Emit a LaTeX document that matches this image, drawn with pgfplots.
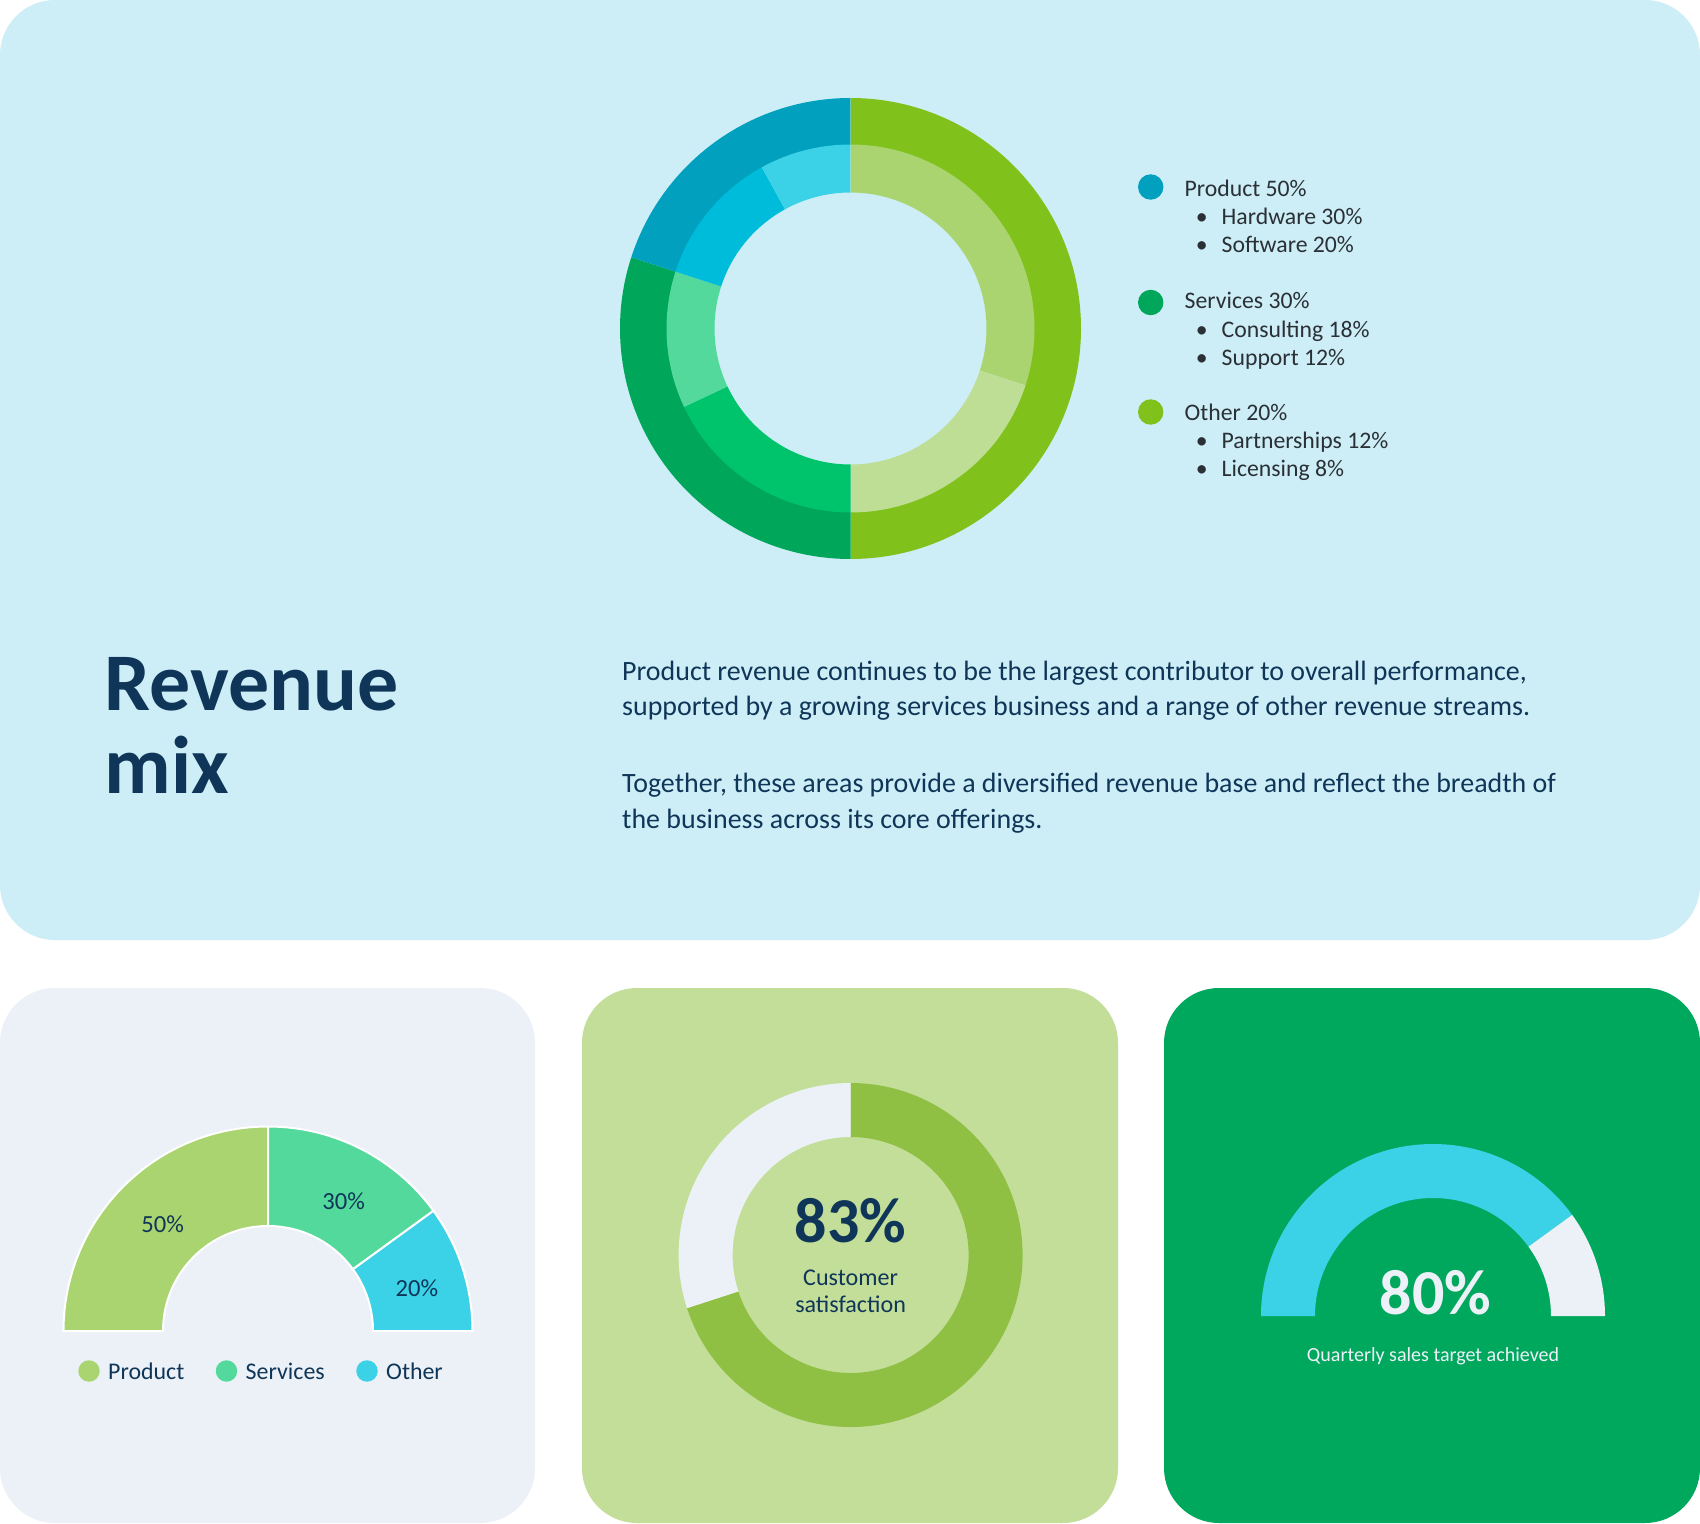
\documentclass[border=0pt]{standalone}
\usepackage{pgfplots}
\pgfplotsset{compat=1.18}
\usepackage{fontspec}
\setmainfont{Carlito}

\definecolor{topbg}{HTML}{CDEEF7}
\definecolor{navy}{HTML}{0F3658}
\definecolor{legtext}{HTML}{2A3035}
\definecolor{oLime}{HTML}{80C11C}
\definecolor{oGreen}{HTML}{00A65A}
\definecolor{oBlue}{HTML}{00A0BE}
\definecolor{iLime}{HTML}{A9D470}
\definecolor{iLimeL}{HTML}{BDDE94}
\definecolor{iGreen}{HTML}{00C46B}
\definecolor{iGreenL}{HTML}{53D99B}
\definecolor{iCyan}{HTML}{00BCDB}
\definecolor{iCyanL}{HTML}{3BD1E6}
\definecolor{paleGrey}{HTML}{ECF1F8}
\definecolor{midBg}{HTML}{C3DE99}
\definecolor{midGreen}{HTML}{8FC043}
\definecolor{rightBg}{HTML}{00A85D}

% one ring segment: cx, cy, inner r, outer r, from angle, to angle, style
% (1 axis unit = 0.1mm, so radii go to arc in mm)
\newcommand{\seg}[7]{%
  \fill[#7] (axis cs:{#1+#4*cos(#5)},{#2+#4*sin(#5)})
    arc[start angle=#5, end angle=#6, radius=#4*0.1mm]
    -- (axis cs:{#1+#3*cos(#6)},{#2+#3*sin(#6)})
    arc[start angle=#6, end angle=#5, radius=#3*0.1mm] -- cycle;}

% a ring of segments, clockwise from a start angle
% [extra style]{cx}{cy}{r in}{r out}{start}{span}{value/colour,...}
\newcommand{\ring}[8][]{%
  \xdef\ringA{#6}%
  \foreach \v/\c in {#8} {%
    \pgfmathsetmacro\ringB{\ringA-\v/100*#7}%
    \edef\tmp{\noexpand\seg{#2}{#3}{#4}{#5}{\ringA}{\ringB}{fill=\c,#1}}%
    \tmp
    \xdef\ringA{\ringB}%
  }}

\newcommand{\fs}[1]{\fontsize{#1}{1.2\dimexpr#1\relax}\selectfont}

\begin{document}
\begin{tikzpicture}
\begin{axis}[
  scale only axis, width=17cm, height=15.23cm,
  xmin=0, xmax=1700, ymin=0, ymax=1523,
  hide axis, clip=false]

% background and cards
\fill[white] (axis cs:0,0) rectangle (axis cs:1700,1523);
\fill[topbg, rounded corners=5.5mm] (axis cs:0,583) rectangle (axis cs:1700,1523);
\fill[paleGrey, rounded corners=5.5mm] (axis cs:0,0) rectangle (axis cs:535,535);
\fill[midBg, rounded corners=5.5mm] (axis cs:582,0) rectangle (axis cs:1118,535);
\fill[rightBg, rounded corners=5.5mm] (axis cs:1164,0) rectangle (axis cs:1700,535);

% main donut: outer ring and inner ring (percent)
\ring{850.5}{1194.5}{183.5}{230.5}{90}{360}{50/oLime, 30/oGreen, 20/oBlue}
\ring{850.5}{1194.5}{136}{184}{90}{360}{30/iLime, 20/iLimeL, 18/iGreen, 12/iGreenL, 12/iCyan, 8/iCyanL}

% legend dots
\addplot[only marks, mark=*, mark size=1.2mm, mark options={fill=oBlue, draw=oBlue}]
  coordinates {(1150.7,1336)};
\addplot[only marks, mark=*, mark size=1.2mm, mark options={fill=oGreen, draw=oGreen}]
  coordinates {(1150.7,1220.5)};
\addplot[only marks, mark=*, mark size=1.2mm, mark options={fill=oLime, draw=oLime}]
  coordinates {(1150.7,1111)};

\begin{scope}[every node/.style={anchor=base west, text=legtext, font=\fs{6.75pt}, inner sep=0pt}]
\node at (axis cs:1184,1326.5) {Product 50\%};
\node at (axis cs:1221,1298) {Hardware 30\%};
\node at (axis cs:1221,1270.3) {Software 20\%};
\node at (axis cs:1184,1214.3) {Services 30\%};
\node at (axis cs:1221,1185.8) {Consulting 18\%};
\node at (axis cs:1221,1157.8) {Support 12\%};
\node at (axis cs:1184,1102.2) {Other 20\%};
\node at (axis cs:1221,1074.2) {Partnerships 12\%};
\node at (axis cs:1221,1046.5) {Licensing 8\%};
\end{scope}
\begin{scope}[every node/.style={anchor=base, text=legtext, font=\fs{6.75pt}, inner sep=0pt}]
\foreach \yy in {1298,1270.3,1185.8,1157.8,1074.2,1046.5}
  {\edef\tmp{\noexpand\node at (axis cs:1201.7,\yy) {\noexpand\textbullet};}\tmp}
\end{scope}

% title and text
\node[anchor=base west, inner sep=0pt, text=navy, font=\fs{23.3pt}\bfseries] at (axis cs:104,813) {Revenue};
\node[anchor=base west, inner sep=0pt, text=navy, font=\fs{23.3pt}\bfseries] at (axis cs:104,729.3) {mix};
\begin{scope}[every node/.style={anchor=base west, text=navy, font=\fs{7.95pt}, inner sep=0pt}]
\node at (axis cs:621.5,843) {Product revenue continues to be the largest contributor to overall performance,};
\node at (axis cs:621.5,807.5) {supported by a growing services business and a range of other revenue streams.};
\node at (axis cs:621.5,731) {Together, these areas provide a diversified revenue base and reflect the breadth of};
\node at (axis cs:621.5,695) {the business across its core offerings.};
\end{scope}

% bottom left: half donut
\ring[draw=white, line width=0.2mm]{268}{192}{105}{204.5}{180}{180}{50/iLime, 30/iGreenL, 20/iCyanL}
\node[text=navy, font=\fs{7pt}] at (axis cs:162.6,299) {50\%};
\node[text=navy, font=\fs{7pt}] at (axis cs:343.6,321.5) {30\%};
\node[text=navy, font=\fs{7pt}] at (axis cs:417,235) {20\%};
\addplot[only marks, mark=*, mark size=1mm, mark options={fill=iLime, draw=iLime}]
  coordinates {(89,152)};
\addplot[only marks, mark=*, mark size=1mm, mark options={fill=iGreenL, draw=iGreenL}]
  coordinates {(226.5,152)};
\addplot[only marks, mark=*, mark size=1mm, mark options={fill=iCyanL, draw=iCyanL}]
  coordinates {(367,152)};
\begin{scope}[every node/.style={anchor=west, text=navy, font=\fs{6.8pt}, inner sep=0pt}]
\node at (axis cs:107.5,152) {Product};
\node at (axis cs:245,152) {Services};
\node at (axis cs:385.5,152) {Other};
\end{scope}

% bottom middle: satisfaction donut
\ring{850.6}{268}{118}{172}{90}{360}{70/midGreen, 30/paleGrey}
\node[text=navy, font=\fs{18.2pt}\bfseries] at (axis cs:850.6,302.5) {83\%};
\node[text=navy, font=\fs{6.85pt}] at (axis cs:850.6,245) {Customer};
\node[text=navy, font=\fs{6.85pt}] at (axis cs:850.6,218.4) {satisfaction};

% bottom right: sales gauge
\ring{1433}{207}{118}{172}{180}{180}{80/iCyanL, 20/paleGrey}
\node[text=paleGrey, font=\fs{18.2pt}\bfseries] at (axis cs:1435.5,230) {80\%};
\node[text=paleGrey, font=\fs{5.7pt}] at (axis cs:1433,167) {Quarterly sales target achieved};

\end{axis}
\end{tikzpicture}
\end{document}
